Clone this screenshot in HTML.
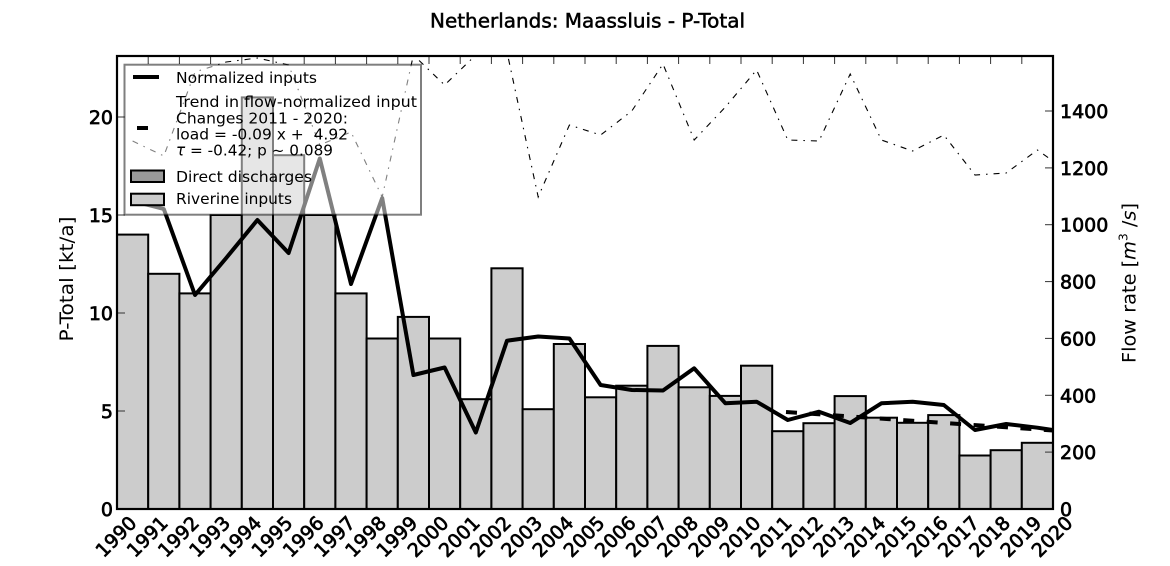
<!DOCTYPE html>
<html><head><meta charset="utf-8"><style>
html,body{margin:0;padding:0;background:#fff;}
svg{display:block;}
text{font-family:"DejaVu Sans","Liberation Sans",sans-serif;fill:#000;}
</style></head><body>
<svg width="1170" height="566" viewBox="0 0 1170 566" xmlns="http://www.w3.org/2000/svg">
<rect x="0" y="0" width="1170" height="566" fill="#fff"/>
<defs><clipPath id="pc"><rect x="117" y="56" width="936" height="453"/></clipPath></defs>

<!-- Title -->
<text x="587.5" y="27.5" font-size="19.5" text-anchor="middle" textLength="315" lengthAdjust="spacingAndGlyphs" stroke="#000" stroke-width="0.5">Netherlands: Maassluis - P-Total</text>

<g clip-path="url(#pc)">
<!-- bars -->
<g fill="#cccccc" stroke="#000" stroke-width="2">
<rect x="117" y="234.6" width="31.2" height="274.4"/>
<rect x="148.2" y="273.8" width="31.2" height="235.2"/>
<rect x="179.4" y="293.4" width="31.2" height="215.6"/>
<rect x="210.6" y="215" width="31.2" height="294"/>
<rect x="241.8" y="97.4" width="31.2" height="411.6"/>
<rect x="273" y="155.2" width="31.2" height="353.8"/>
<rect x="304.2" y="215" width="31.2" height="294"/>
<rect x="335.4" y="293.4" width="31.2" height="215.6"/>
<rect x="366.6" y="338.5" width="31.2" height="170.5"/>
<rect x="397.8" y="316.9" width="31.2" height="192.1"/>
<rect x="429" y="338.5" width="31.2" height="170.5"/>
<rect x="460.2" y="399.2" width="31.2" height="109.8"/>
<rect x="491.4" y="268.3" width="31.2" height="240.7"/>
<rect x="522.6" y="409.2" width="31.2" height="99.8"/>
<rect x="553.8" y="344" width="31.2" height="165"/>
<rect x="585" y="397.3" width="31.2" height="111.7"/>
<rect x="616.2" y="385.7" width="31.2" height="123.3"/>
<rect x="647.4" y="345.9" width="31.2" height="163.1"/>
<rect x="678.6" y="387.3" width="31.2" height="121.7"/>
<rect x="709.8" y="395.9" width="31.2" height="113.1"/>
<rect x="741" y="365.7" width="31.2" height="143.3"/>
<rect x="772.2" y="431.2" width="31.2" height="77.8"/>
<rect x="803.4" y="423.2" width="31.2" height="85.8"/>
<rect x="834.6" y="396.1" width="31.2" height="112.9"/>
<rect x="865.8" y="417.7" width="31.2" height="91.3"/>
<rect x="897" y="422.8" width="31.2" height="86.2"/>
<rect x="928.2" y="415.1" width="31.2" height="93.9"/>
<rect x="959.4" y="455.5" width="31.2" height="53.5"/>
<rect x="990.6" y="450.2" width="31.2" height="58.8"/>
<rect x="1021.8" y="442.8" width="31.2" height="66.2"/>
</g>

<!-- normalized inputs -->
<polyline fill="none" stroke="#000" stroke-width="4" stroke-linejoin="round" points="132.6,201 163.8,209 195,295 226.2,258 257.4,220 288.6,253 319.8,158.5 351,284 382.2,198 413.4,375 444.6,367.5 475.8,432.5 507,340.7 538.2,336.5 569.4,338.5 600.6,385 631.8,390 663,390.5 694.2,368.3 725.4,403.3 756.6,401.7 787.8,420 819,411.7 850.2,423 881.4,403.3 912.6,401.7 943.8,405 975,430 1006.2,424 1037.4,427.7 1053,430"/>

<!-- trend dashed -->
<line x1="786" y1="412" x2="1053" y2="430.5" stroke="#000" stroke-width="4" stroke-dasharray="11,12.5"/>

<!-- flow rate dash-dot -->
<polyline fill="none" stroke="#000" stroke-width="1.1" stroke-dasharray="6,6,1.5,6" points="132.6,141 163.8,156 195,72 226.2,62 257.4,58 288.6,65 319.8,145 351,132 382.2,197 413.4,55 444.6,85 475.8,55 507,52 538.2,197 569.4,125 600.6,135 631.8,111 663,64 694.2,140 725.4,107 756.6,70 787.8,140 819,141 850.2,74 881.4,140 912.6,151 943.8,135 975,175 1006.2,173 1037.4,150 1068.6,172"/>
</g>

<!-- top ticks -->
<g stroke="#333" stroke-width="1">
<line x1="148.2" y1="56" x2="148.2" y2="64"/><line x1="179.4" y1="56" x2="179.4" y2="64"/>
<line x1="210.6" y1="56" x2="210.6" y2="64"/><line x1="241.8" y1="56" x2="241.8" y2="64"/>
<line x1="273" y1="56" x2="273" y2="64"/><line x1="304.2" y1="56" x2="304.2" y2="64"/>
<line x1="335.4" y1="56" x2="335.4" y2="64"/><line x1="366.6" y1="56" x2="366.6" y2="64"/>
<line x1="397.8" y1="56" x2="397.8" y2="64"/><line x1="429" y1="56" x2="429" y2="64"/>
<line x1="460.2" y1="56" x2="460.2" y2="64"/><line x1="491.4" y1="56" x2="491.4" y2="64"/>
<line x1="522.6" y1="56" x2="522.6" y2="64"/><line x1="553.8" y1="56" x2="553.8" y2="64"/>
<line x1="585" y1="56" x2="585" y2="64"/><line x1="616.2" y1="56" x2="616.2" y2="64"/>
<line x1="647.4" y1="56" x2="647.4" y2="64"/><line x1="678.6" y1="56" x2="678.6" y2="64"/>
<line x1="709.8" y1="56" x2="709.8" y2="64"/><line x1="741" y1="56" x2="741" y2="64"/>
<line x1="772.2" y1="56" x2="772.2" y2="64"/><line x1="803.4" y1="56" x2="803.4" y2="64"/>
<line x1="834.6" y1="56" x2="834.6" y2="64"/><line x1="865.8" y1="56" x2="865.8" y2="64"/>
<line x1="897" y1="56" x2="897" y2="64"/><line x1="928.2" y1="56" x2="928.2" y2="64"/>
<line x1="959.4" y1="56" x2="959.4" y2="64"/><line x1="990.6" y1="56" x2="990.6" y2="64"/>
<line x1="1021.8" y1="56" x2="1021.8" y2="64"/>
<!-- left ticks -->
<line x1="117" y1="411" x2="125" y2="411"/><line x1="117" y1="313" x2="125" y2="313"/>
<line x1="117" y1="215" x2="125" y2="215"/><line x1="117" y1="117" x2="125" y2="117"/>
<!-- right ticks -->
<line x1="1045" y1="452.1" x2="1053" y2="452.1"/><line x1="1045" y1="395.3" x2="1053" y2="395.3"/>
<line x1="1045" y1="338.4" x2="1053" y2="338.4"/><line x1="1045" y1="281.6" x2="1053" y2="281.6"/>
<line x1="1045" y1="224.7" x2="1053" y2="224.7"/><line x1="1045" y1="167.9" x2="1053" y2="167.9"/>
<line x1="1045" y1="111" x2="1053" y2="111"/>
</g>

<!-- Legend -->
<rect x="124.5" y="64.7" width="296.5" height="150" fill="#fff" fill-opacity="0.5" stroke="#000" stroke-opacity="0.5" stroke-width="2"/>
<line x1="133" y1="77" x2="159" y2="77" stroke="#000" stroke-width="4"/>
<line x1="137" y1="128" x2="148" y2="128" stroke="#000" stroke-width="4"/>
<rect x="131" y="170.5" width="33" height="11.5" fill="#999" stroke="#000" stroke-width="2"/>
<rect x="131" y="193.7" width="33" height="11.5" fill="#ccc" stroke="#000" stroke-width="2"/>
<g font-size="15.5">
<text x="176" y="83" textLength="141" lengthAdjust="spacingAndGlyphs">Normalized inputs</text>
<text x="176" y="107" textLength="241" lengthAdjust="spacingAndGlyphs">Trend in flow-normalized input</text>
<text x="176" y="123.5" textLength="172" lengthAdjust="spacingAndGlyphs">Changes 2011 - 2020:</text>
<text x="176" y="139.5" textLength="172" lengthAdjust="spacingAndGlyphs" xml:space="preserve">load = -0.09 x +  4.92</text>
<text x="176" y="155.5" textLength="157" lengthAdjust="spacingAndGlyphs"><tspan font-style="italic">τ</tspan> = -0.42; p ~ 0.089</text>
<text x="176" y="182" textLength="136" lengthAdjust="spacingAndGlyphs">Direct discharges</text>
<text x="176" y="204" textLength="116" lengthAdjust="spacingAndGlyphs">Riverine inputs</text>
</g>

<!-- spines -->
<rect x="117" y="56" width="936" height="453" fill="none" stroke="#000" stroke-width="2.2"/>

<!-- left tick labels -->
<g font-size="19" text-anchor="end" stroke="#000" stroke-width="0.7">
<text x="113" y="516">0</text>
<text x="113" y="418">5</text>
<text x="113" y="320">10</text>
<text x="113" y="222">15</text>
<text x="113" y="124">20</text>
</g>
<!-- right tick labels -->
<g font-size="19" text-anchor="start" stroke="#000" stroke-width="0.7">
<text x="1060" y="516">0</text>
<text x="1060" y="459.1">200</text>
<text x="1060" y="402.3">400</text>
<text x="1060" y="345.4">600</text>
<text x="1060" y="288.6">800</text>
<text x="1060" y="231.7">1000</text>
<text x="1060" y="174.9">1200</text>
<text x="1060" y="118">1400</text>
</g>

<!-- x tick labels -->
<g font-size="19" text-anchor="middle" dominant-baseline="central" stroke="#000" stroke-width="0.7">
<text transform="translate(116.5,537) rotate(-45)">1990</text>
<text transform="translate(147.7,537) rotate(-45)">1991</text>
<text transform="translate(178.9,537) rotate(-45)">1992</text>
<text transform="translate(210.1,537) rotate(-45)">1993</text>
<text transform="translate(241.3,537) rotate(-45)">1994</text>
<text transform="translate(272.5,537) rotate(-45)">1995</text>
<text transform="translate(303.7,537) rotate(-45)">1996</text>
<text transform="translate(334.9,537) rotate(-45)">1997</text>
<text transform="translate(366.1,537) rotate(-45)">1998</text>
<text transform="translate(397.3,537) rotate(-45)">1999</text>
<text transform="translate(428.5,537) rotate(-45)">2000</text>
<text transform="translate(459.7,537) rotate(-45)">2001</text>
<text transform="translate(490.9,537) rotate(-45)">2002</text>
<text transform="translate(522.1,537) rotate(-45)">2003</text>
<text transform="translate(553.3,537) rotate(-45)">2004</text>
<text transform="translate(584.5,537) rotate(-45)">2005</text>
<text transform="translate(615.7,537) rotate(-45)">2006</text>
<text transform="translate(646.9,537) rotate(-45)">2007</text>
<text transform="translate(678.1,537) rotate(-45)">2008</text>
<text transform="translate(709.3,537) rotate(-45)">2009</text>
<text transform="translate(740.5,537) rotate(-45)">2010</text>
<text transform="translate(771.7,537) rotate(-45)">2011</text>
<text transform="translate(802.9,537) rotate(-45)">2012</text>
<text transform="translate(834.1,537) rotate(-45)">2013</text>
<text transform="translate(865.3,537) rotate(-45)">2014</text>
<text transform="translate(896.5,537) rotate(-45)">2015</text>
<text transform="translate(927.7,537) rotate(-45)">2016</text>
<text transform="translate(958.9,537) rotate(-45)">2017</text>
<text transform="translate(990.1,537) rotate(-45)">2018</text>
<text transform="translate(1021.3,537) rotate(-45)">2019</text>
<text transform="translate(1052.5,537) rotate(-45)">2020</text>
</g>

<!-- axis labels -->
<text transform="translate(73,279) rotate(-90)" font-size="19" text-anchor="middle" textLength="125" lengthAdjust="spacingAndGlyphs">P-Total [kt/a]</text>
<text transform="translate(1135.5,283) rotate(-90)" font-size="19" text-anchor="middle" textLength="160" lengthAdjust="spacingAndGlyphs">Flow rate [<tspan font-style="italic">m</tspan><tspan font-size="12" dy="-8">3</tspan><tspan dy="8"> /</tspan><tspan font-style="italic">s</tspan>]</text>
</svg>
</body></html>
